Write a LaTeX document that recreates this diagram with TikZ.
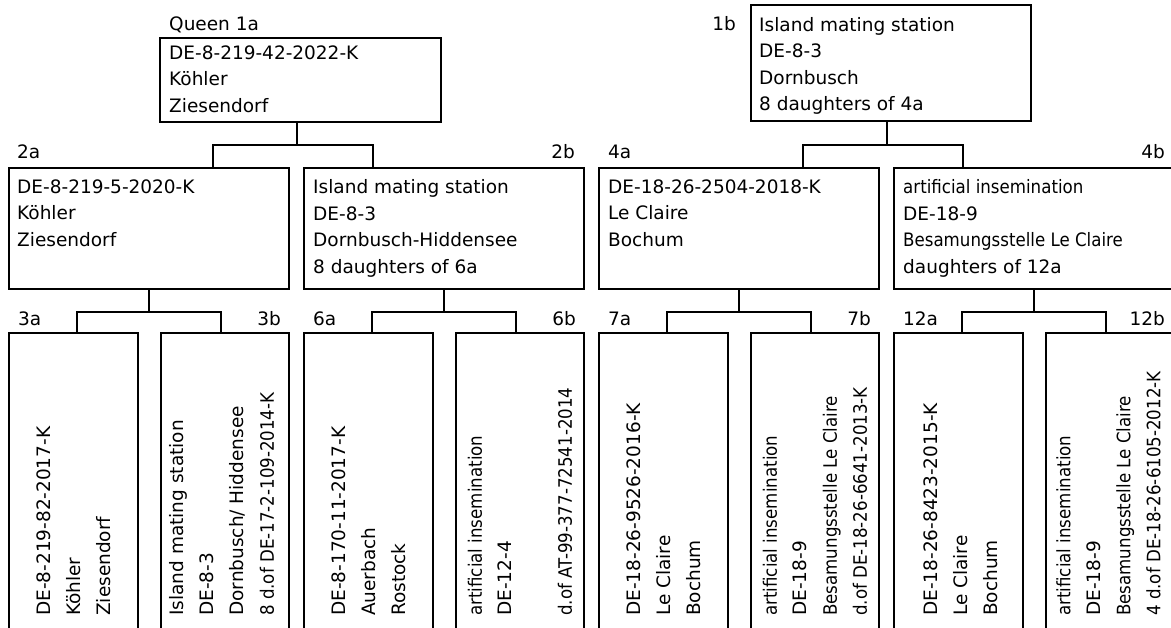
\documentclass[tikz,border=0pt]{standalone}
\usepackage{fontspec}
\setmainfont{DejaVu Sans}
\newfontfamily\condfont{DejaVu Sans}[FakeStretch=0.9]
\usetikzlibrary{calc,positioning}
\tikzset{
	box/.style={draw, line width=1.3pt, inner sep=0pt, outer sep=0pt, anchor=north west},
	info/.style={inner sep=0pt, anchor=north west, align=left, font=\fontsize{18.5pt}{26.5pt}\selectfont},
	upinfo/.style={inner sep=0pt, anchor=north west, align=left, rotate=90, font=\fontsize{18.5pt}{30pt}\selectfont},
	tag/.style={inner sep=0pt, font=\fontsize{18.5pt}{22pt}\selectfont},
	link/.style={line width=1.3pt},
}

\begin{document}
\begin{tikzpicture}[x=1pt,y=-1pt]
	\clip (0,0) rectangle (1171,628);
	% top generation
	\node (queen) at (160,38)[box, minimum width=281pt, minimum height=84pt]{};
	\node (b1b) at (751,5)[box, minimum width=280pt, minimum height=116pt]{};
	\node (queentxt) at ($(queen.north west)+(9,7.5)$)[info]{DE-8-219-42-2022-K\\Köhler\\Ziesendorf};
	\node (queenlbl) at ($(queen.north west)+(9,-7)$)[tag, anchor=base west]{Queen 1a};
	\node (txt1b) at ($(b1b.north west)+(8,12)$)[info]{Island mating station\\DE-8-3\\Dornbusch\\8 daughters of 4a};
	\node (lbl1b) at ($(b1b.north west)+(-15,26)$)[tag, anchor=base east]{1b};

	% second generation
	\node (b2a) at (9,168)[box, minimum width=280pt, minimum height=121pt]{};
	\node (b2b) at (304,168)[box, minimum width=280pt, minimum height=121pt]{};
	\node (b4a) at (599,168)[box, minimum width=280pt, minimum height=121pt]{};
	\node (b4b) at (894,168)[box, minimum width=280pt, minimum height=121pt]{};
	\node (txt2a) at ($(b2a.north west)+(8,11.5)$)[info]{DE-8-219-5-2020-K\\Köhler\\Ziesendorf};
	\node (txt2b) at ($(b2b.north west)+(9,11.5)$)[info]{Island mating station\\DE-8-3\\Dornbusch-Hiddensee\\8 daughters of 6a};
	\node (txt4a) at ($(b4a.north west)+(9,11.5)$)[info]{DE-18-26-2504-2018-K\\Le Claire\\Bochum};
	\node (txt4b) at ($(b4b.north west)+(9,11.5)$)[info]{{\condfont artificial insemination}\\DE-18-9\\{\condfont Besamungsstelle Le Claire}\\daughters of 12a};
	\node (lbl2a) at ($(b2a.north west)+(8,-9)$)[tag, anchor=base west]{2a};
	\node (lbl2b) at ($(b2b.north east)+(-9,-9)$)[tag, anchor=base east]{2b};
	\node (lbl4a) at ($(b4a.north west)+(9,-9)$)[tag, anchor=base west]{4a};
	\node (lbl4b) at ($(b4b.north east)+(-9,-9)$)[tag, anchor=base east]{4b};

	% third generation
	\node (b3a) at (9,333)[box, minimum width=129pt, minimum height=320pt]{};
	\node (b3b) at (161,333)[box, minimum width=128pt, minimum height=320pt]{};
	\node (b6a) at (304,333)[box, minimum width=129pt, minimum height=320pt]{};
	\node (b6b) at (456,333)[box, minimum width=128pt, minimum height=320pt]{};
	\node (b7a) at (599,333)[box, minimum width=129pt, minimum height=320pt]{};
	\node (b7b) at (751,333)[box, minimum width=128pt, minimum height=320pt]{};
	\node (b12a) at (894,333)[box, minimum width=129pt, minimum height=320pt]{};
	\node (b12b) at (1046,333)[box, minimum width=128pt, minimum height=320pt]{};
	\node (txt3a) at ($(b3a.north west)+(28,283)$)[upinfo]{DE-8-219-82-2017-K\\Köhler\\Ziesendorf};
	\node (txt3b) at ($(b3b.north west)+(8.5,283)$)[upinfo]{Island mating station\\DE-8-3\\Dornbusch/ Hiddensee\\{\condfont 8 d.of DE-17-2-109-2014-K}};
	\node (txt6a) at ($(b6a.north west)+(28,283)$)[upinfo]{DE-8-170-11-2017-K\\Auerbach\\Rostock};
	\node (txt6b) at ($(b6b.north west)+(11.5,283)$)[upinfo]{{\condfont artificial insemination}\\DE-12-4\\[30pt]{\condfont d.of AT-99-377-72541-2014}};
	\node (txt7a) at ($(b7a.north west)+(28,283)$)[upinfo]{DE-18-26-9526-2016-K\\Le Claire\\Bochum};
	\node (txt7b) at ($(b7b.north west)+(11.5,283)$)[upinfo]{{\condfont artificial insemination}\\DE-18-9\\{\condfont Besamungsstelle Le Claire}\\{\condfont d.of DE-18-26-6641-2013-K}};
	\node (txt12a) at ($(b12a.north west)+(30,283)$)[upinfo]{DE-18-26-8423-2015-K\\Le Claire\\Bochum};
	\node (txt12b) at ($(b12b.north west)+(10,283)$)[upinfo]{{\condfont artificial insemination}\\DE-18-9\\{\condfont Besamungsstelle Le Claire}\\{\condfont 4 d.of DE-18-26-6105-2012-K}};
	\node (lbl3a) at ($(b3a.north west)+(9,-7)$)[tag, anchor=base west]{3a};
	\node (lbl3b) at ($(b3b.north east)+(-8,-7)$)[tag, anchor=base east]{3b};
	\node (lbl6a) at ($(b6a.north west)+(9,-7)$)[tag, anchor=base west]{6a};
	\node (lbl6b) at ($(b6b.north east)+(-8,-7)$)[tag, anchor=base east]{6b};
	\node (lbl7a) at ($(b7a.north west)+(9,-7)$)[tag, anchor=base west]{7a};
	\node (lbl7b) at ($(b7b.north east)+(-8,-7)$)[tag, anchor=base east]{7b};
	\node (lbl12a) at ($(b12a.north west)+(9,-7)$)[tag, anchor=base west]{12a};
	\node (lbl12b) at ($(b12b.north east)+(-9,-7)$)[tag, anchor=base east]{12b};

	% forks
	\draw[link] ($(queen.south)+(-3.5,0)$) -- ++(0,23) coordinate (jq);
	\draw[link] ($(b2a.north)+(64,0)$) |- (jq) -| ($(b2b.north)+(-71,0)$);
	\draw[link] ($(b1b.south)+(-4,0)$) -- ++(0,24) coordinate (j1b);
	\draw[link] ($(b4a.north)+(64,0)$) |- (j1b) -| ($(b4b.north)+(-71,0)$);
	\draw[link] (b2a.south) -- ++(0,23) coordinate (j2a);
	\draw[link] ($(b3a.north)+(3.5,0)$) |- (j2a) -| ($(b3b.north)+(-4,0)$);
	\draw[link] (b2b.south) -- ++(0,23) coordinate (j2b);
	\draw[link] ($(b6a.north)+(3.5,0)$) |- (j2b) -| ($(b6b.north)+(-4,0)$);
	\draw[link] (b4a.south) -- ++(0,23) coordinate (j4a);
	\draw[link] ($(b7a.north)+(3.5,0)$) |- (j4a) -| ($(b7b.north)+(-4,0)$);
	\draw[link] (b4b.south) -- ++(0,23) coordinate (j4b);
	\draw[link] ($(b12a.north)+(3.5,0)$) |- (j4b) -| ($(b12b.north)+(-4,0)$);
\end{tikzpicture}
\end{document}
